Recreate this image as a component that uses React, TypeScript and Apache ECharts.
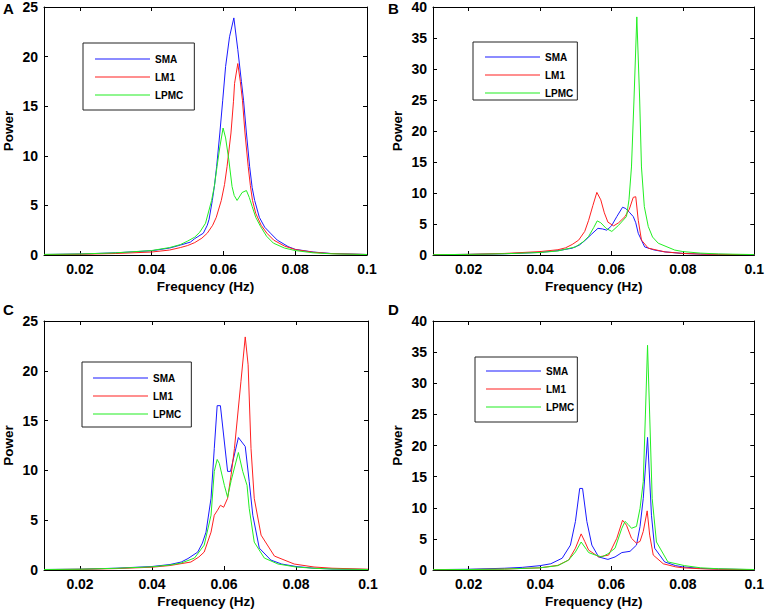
import React, { useEffect, useRef } from "react";
import * as echarts from "echarts";

const SERIES_NAMES = ["SMA", "LM1", "LPMC"];
const PANEL_LETTERS = ["A", "B", "C", "D"];
const X_TICKS = [0.02, 0.04, 0.06, 0.08, 0.1];
const Y_MAX = [25, 40, 25, 40];

// Panel A
const aSMA = [[0.01,0.05],[0.02,0.1],[0.03,0.22],[0.04,0.43],[0.045,0.7],[0.048,1.0],[0.0508,1.3],[0.052,1.65],[0.0544,2.2],[0.0555,3.0],[0.056,3.6],[0.0569,5.5],[0.0575,7.0],[0.0581,8.9],[0.059,12.3],[0.0598,15.6],[0.0606,19.0],[0.0617,22.0],[0.0629,23.9],[0.064,20.7],[0.065,17.5],[0.0656,15.6],[0.0664,12.3],[0.0673,8.9],[0.068,6.8],[0.0687,5.5],[0.07,3.8],[0.0715,2.8],[0.0731,2.2],[0.075,1.5],[0.078,0.85],[0.08,0.57],[0.085,0.3],[0.09,0.15],[0.1,0.05]];
const aLM1 = [[0.01,0.04],[0.02,0.07],[0.03,0.15],[0.04,0.3],[0.045,0.5],[0.048,0.75],[0.05,0.95],[0.052,1.25],[0.054,1.7],[0.0555,2.2],[0.057,3.0],[0.058,3.8],[0.0594,5.5],[0.0603,7.1],[0.061,8.9],[0.0621,12.3],[0.0628,15.5],[0.0631,17.3],[0.064,19.3],[0.0647,17.5],[0.0653,15.6],[0.066,12.3],[0.0669,8.9],[0.0675,7.0],[0.0681,5.5],[0.069,4.2],[0.0705,3.0],[0.0721,2.2],[0.074,1.5],[0.077,0.9],[0.08,0.55],[0.085,0.28],[0.09,0.14],[0.1,0.05]];
const aLPMC = [[0.01,0.06],[0.02,0.1],[0.03,0.22],[0.04,0.45],[0.045,0.75],[0.048,1.05],[0.05,1.4],[0.052,1.8],[0.0534,2.3],[0.055,3.2],[0.0567,5.5],[0.0575,7.0],[0.0582,8.9],[0.059,10.9],[0.0599,12.8],[0.0606,11.8],[0.0615,9.6],[0.0624,6.9],[0.063,6.0],[0.0638,5.5],[0.0652,6.3],[0.0664,6.5],[0.0672,5.8],[0.068,4.9],[0.069,3.8],[0.0703,2.9],[0.072,1.9],[0.0739,1.2],[0.077,0.7],[0.08,0.45],[0.085,0.22],[0.09,0.12],[0.1,0.05]];

// Panel B
const bSMA = [[0.01,0.05],[0.02,0.1],[0.03,0.2],[0.04,0.42],[0.045,0.7],[0.049,1.1],[0.051,1.6],[0.0527,2.4],[0.0545,3.4],[0.0562,4.3],[0.0575,4.2],[0.0587,4.0],[0.06,4.7],[0.0615,6.2],[0.0631,7.7],[0.064,7.5],[0.065,6.9],[0.0661,6.2],[0.0668,5.2],[0.0675,3.5],[0.0693,1.3],[0.072,0.8],[0.075,0.5],[0.08,0.25],[0.085,0.15],[0.09,0.1],[0.1,0.05]];
const bLM1 = [[0.01,0.05],[0.02,0.1],[0.03,0.25],[0.04,0.55],[0.045,0.85],[0.0471,1.15],[0.049,1.7],[0.0508,2.4],[0.0525,3.8],[0.0536,5.6],[0.0548,8.0],[0.0559,10.1],[0.057,8.9],[0.058,6.8],[0.059,5.3],[0.0606,4.7],[0.062,5.2],[0.0638,6.2],[0.065,7.4],[0.0661,9.3],[0.0668,9.4],[0.0675,5.6],[0.0684,2.4],[0.0703,1.1],[0.075,0.5],[0.08,0.25],[0.085,0.15],[0.09,0.1],[0.1,0.05]];
const bLPMC = [[0.01,0.05],[0.02,0.1],[0.03,0.2],[0.04,0.4],[0.045,0.65],[0.0499,1.3],[0.052,2.1],[0.0536,3.0],[0.055,4.4],[0.056,5.5],[0.057,5.2],[0.0585,4.3],[0.0601,3.8],[0.062,4.8],[0.0642,6.2],[0.0649,8.9],[0.0656,14.2],[0.0663,25.0],[0.0671,38.4],[0.0679,25.0],[0.0684,14.2],[0.0692,7.8],[0.0703,4.6],[0.0715,2.9],[0.0731,1.9],[0.0777,0.8],[0.08,0.55],[0.085,0.3],[0.09,0.17],[0.1,0.07]];

// Panel C
const cSMA = [[0.01,0.05],[0.02,0.08],[0.03,0.18],[0.04,0.35],[0.045,0.55],[0.0481,0.8],[0.05,1.15],[0.0527,1.8],[0.054,2.7],[0.055,3.8],[0.0564,7.2],[0.0573,12.2],[0.0581,16.5],[0.059,16.5],[0.061,9.9],[0.0618,9.9],[0.064,13.3],[0.0659,12.4],[0.067,8.9],[0.068,5.5],[0.0698,2.2],[0.073,1.0],[0.076,0.6],[0.08,0.35],[0.085,0.18],[0.09,0.1],[0.1,0.05]];
const cLM1 = [[0.01,0.04],[0.02,0.07],[0.03,0.14],[0.04,0.28],[0.045,0.45],[0.0508,0.8],[0.053,1.3],[0.0545,1.8],[0.0564,3.8],[0.0573,5.5],[0.0582,6.0],[0.059,6.5],[0.0599,6.3],[0.061,7.2],[0.062,9.6],[0.0629,12.2],[0.0647,18.9],[0.0659,23.4],[0.0667,20.6],[0.0675,12.2],[0.0684,7.2],[0.0703,3.5],[0.074,1.4],[0.0795,0.6],[0.085,0.3],[0.09,0.18],[0.1,0.08]];
const cLPMC = [[0.01,0.05],[0.02,0.08],[0.03,0.17],[0.04,0.32],[0.045,0.5],[0.0481,0.7],[0.05,0.95],[0.0518,1.2],[0.0545,2.5],[0.0564,5.5],[0.0573,9.9],[0.0581,11.1],[0.0587,10.7],[0.0601,8.5],[0.061,7.3],[0.062,9.0],[0.064,11.8],[0.0652,9.9],[0.0664,8.5],[0.067,6.2],[0.0684,2.8],[0.0712,1.2],[0.075,0.6],[0.08,0.3],[0.085,0.17],[0.09,0.1],[0.1,0.05]];

// Panel D
const dSMA = [[0.01,0.06],[0.02,0.12],[0.03,0.28],[0.035,0.42],[0.04,0.7],[0.043,1.0],[0.0462,1.9],[0.0485,4.0],[0.0499,7.8],[0.0511,13.1],[0.0519,13.1],[0.0531,7.8],[0.0545,4.0],[0.0564,2.1],[0.059,1.7],[0.061,2.1],[0.0629,2.8],[0.0652,3.0],[0.067,4.0],[0.068,7.0],[0.0689,11.5],[0.0701,21.3],[0.0712,8.8],[0.0721,3.5],[0.0749,1.3],[0.078,0.7],[0.08,0.5],[0.085,0.25],[0.09,0.15],[0.1,0.06]];
const dLM1 = [[0.01,0.05],[0.02,0.08],[0.03,0.15],[0.04,0.35],[0.045,0.75],[0.048,1.6],[0.0499,3.5],[0.0515,5.8],[0.0525,4.6],[0.0536,3.2],[0.0564,2.1],[0.0592,2.4],[0.0615,5.1],[0.0631,8.0],[0.0642,7.2],[0.0656,5.1],[0.067,4.3],[0.068,4.6],[0.0689,6.2],[0.07,9.5],[0.0707,5.6],[0.0717,2.4],[0.0745,1.0],[0.078,0.5],[0.08,0.35],[0.085,0.2],[0.09,0.12],[0.1,0.05]];
const dLPMC = [[0.01,0.05],[0.02,0.08],[0.03,0.15],[0.04,0.35],[0.045,0.7],[0.048,1.6],[0.0499,2.9],[0.0515,4.5],[0.053,3.3],[0.0536,2.8],[0.0555,2.4],[0.0573,2.1],[0.059,2.6],[0.061,3.5],[0.0629,6.7],[0.0638,7.8],[0.0647,7.3],[0.0656,6.7],[0.067,7.0],[0.068,9.9],[0.0689,14.2],[0.0695,24.9],[0.0701,36.1],[0.0707,24.9],[0.0714,11.5],[0.0726,4.5],[0.0758,1.3],[0.0805,0.7],[0.085,0.35],[0.09,0.2],[0.1,0.08]];

const PANEL_DATA = [
  [aSMA, aLM1, aLPMC],
  [bSMA, bLM1, bLPMC],
  [cSMA, cLM1, cLPMC],
  [dSMA, dLM1, dLPMC],
];

const COLORS = ["#1a1aff", "#ff2020", "#22ee22"];
const FONT = "'Liberation Sans', Arial, Helvetica, sans-serif";

const GRIDS = [
  { left: 43, top: 7, width: 324, height: 248 },
  { left: 433, top: 7, width: 324, height: 248 },
  { left: 43, top: 321, width: 325, height: 249 },
  { left: 433, top: 321, width: 324, height: 249 },
];

const LEGENDS = [
  { left: 83, top: 43, itemGap: 6, padding: [10, 11, 9, 12] },
  { left: 473, top: 42, itemGap: 6, padding: [9, 4, 1, 12] },
  { left: 82, top: 362, itemGap: 6, padding: [10, 10, 7, 11] },
  { left: 475, top: 357, itemGap: 6, padding: [8, 3, 9, 11] },
];

const LETTER_POS = [
  { left: 3, top: 1 },
  { left: 388, top: 1 },
  { left: 3, top: 302 },
  { left: 388, top: 302 },
];

export default function App() {
  const ref = useRef<HTMLDivElement>(null);
  useEffect(() => {
    if (!ref.current) return;
    const chart = echarts.init(ref.current, undefined, { renderer: "svg" });
    const labelStyle = { color: "#000", fontWeight: "bold" as const, fontSize: 14, fontFamily: FONT };
    const nameStyle = { color: "#000", fontWeight: "bold" as const, fontSize: 13.5, fontFamily: FONT };
    const lineStyle = { color: "#000", width: 1 };
    const xAxis: any[] = [];
    const yAxis: any[] = [];
    const series: any[] = [];
    GRIDS.forEach((_, i) => {
      xAxis.push({
        type: "value", gridIndex: i, min: 0.01, max: 0.1, position: "bottom",
        axisLine: { show: true, onZero: false, lineStyle },
        axisTick: { show: true, inside: true, length: 4, customValues: X_TICKS, lineStyle },
        axisLabel: { ...labelStyle, margin: 7, customValues: X_TICKS, formatter: (v: number) => String(v) },
        splitLine: { show: false },
        name: "Frequency (Hz)", nameLocation: "middle", nameGap: 24, nameTextStyle: nameStyle,
      });
      xAxis.push({
        type: "value", gridIndex: i, min: 0.01, max: 0.1, position: "top",
        axisLine: { show: true, onZero: false, lineStyle },
        axisTick: { show: true, inside: true, length: 4, customValues: X_TICKS, lineStyle },
        axisLabel: { show: false },
        splitLine: { show: false },
      });
      yAxis.push({
        type: "value", gridIndex: i, min: 0, max: Y_MAX[i], interval: 5, position: "left",
        axisLine: { show: true, onZero: false, lineStyle },
        axisTick: { show: true, inside: true, length: 4, lineStyle },
        axisLabel: { ...labelStyle, margin: 6 },
        splitLine: { show: false },
        name: "Power", nameLocation: "middle", nameGap: 29, nameTextStyle: nameStyle,
      });
      yAxis.push({
        type: "value", gridIndex: i, min: 0, max: Y_MAX[i], interval: 5, position: "right",
        axisLine: { show: true, onZero: false, lineStyle },
        axisTick: { show: true, inside: true, length: 4, lineStyle },
        axisLabel: { show: false },
        splitLine: { show: false },
      });
      PANEL_DATA[i].forEach((data, k) => {
        series.push({
          type: "line", name: SERIES_NAMES[k], xAxisIndex: 2 * i, yAxisIndex: 2 * i,
          data, symbol: "none", showSymbol: false, smooth: false,
          lineStyle: { width: 1, color: COLORS[k] }, itemStyle: { color: COLORS[k] },
        });
      });
    });
    chart.setOption({
      animation: false,
      backgroundColor: "#fff",
      grid: GRIDS.map((g) => ({ ...g, containLabel: false })),
      xAxis,
      yAxis,
      legend: LEGENDS.map((l) => ({
        left: l.left, top: l.top, orient: "vertical",
        data: SERIES_NAMES.map((n, k) => ({ name: n, itemStyle: { color: COLORS[k], borderWidth: 0, opacity: 1 } })),
        icon: "rect", itemWidth: 55, itemHeight: 1, itemGap: l.itemGap, padding: l.padding,
        itemStyle: { borderWidth: 0 },
        backgroundColor: "#fff", borderColor: "#222", borderWidth: 1, selectedMode: false,
        textStyle: { color: "#000", fontWeight: "bold", fontSize: 10, fontFamily: FONT, lineHeight: 12 },
      })),
      graphic: PANEL_LETTERS.map((t, i) => ({
        type: "text", left: LETTER_POS[i].left, top: LETTER_POS[i].top,
        style: { text: t, fill: "#000", font: `bold 15px ${FONT}` },
      })),
      series,
    });
    return () => chart.dispose();
  }, []);
  return <div ref={ref} style={{ position: "absolute", left: 0, top: 0, width: 767, height: 611 }} />;
}
